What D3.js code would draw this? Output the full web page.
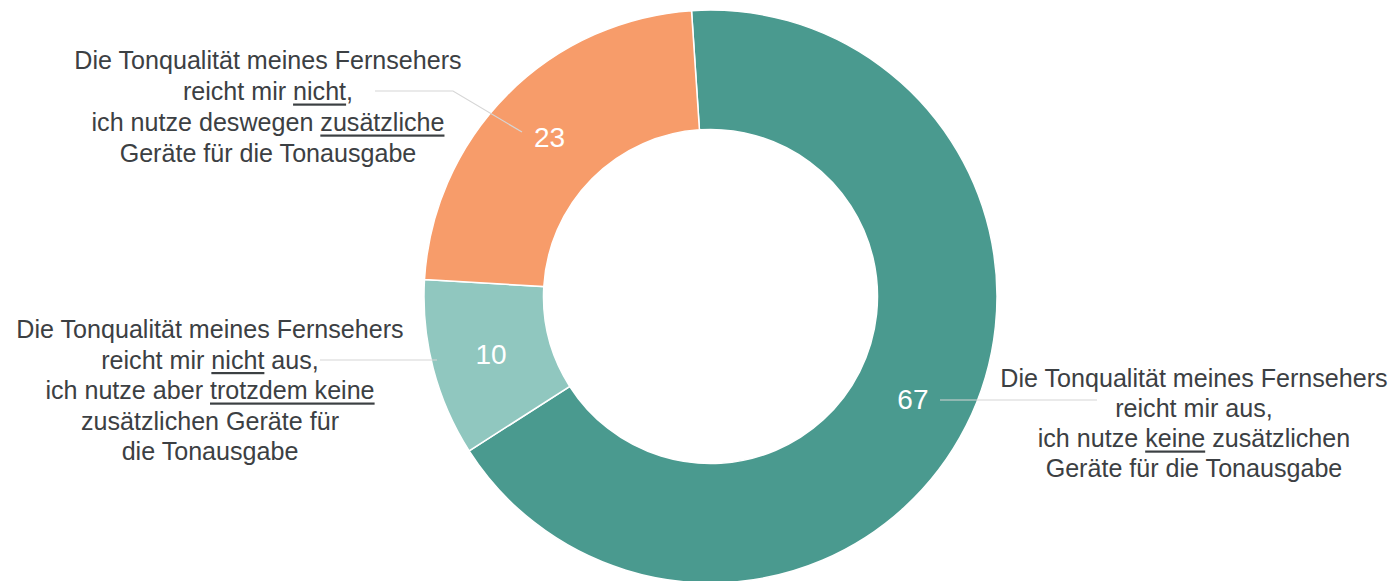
<!DOCTYPE html>
<html>
<head>
<meta charset="utf-8">
<script src="https://cdn.jsdelivr.net/npm/d3@7"></script>
<style>
  html, body { margin: 0; padding: 0; background: #fff; overflow: hidden; }
  svg { display: block; }
  svg text { font-family: Arial, "Liberation Sans", Helvetica, sans-serif; }
</style>
</head>
<body>
<svg id="chart"></svg>
<script>
// Daten
let kategorien = ["ausreichend", "nicht ausreichend, keine Geräte", "nicht ausreichend, zusätzliche Geräte"];
let werte = [67, 10, 23];
let farben = ["#4a9a8f", "#90c7bf", "#f79c6a"];
// _wort_ = unterstrichen
let beschriftungen = [
    ["Die Tonqualität meines Fernsehers", "reicht mir aus,", "ich nutze _keine_ zusätzlichen", "Geräte für die Tonausgabe"],
    ["Die Tonqualität meines Fernsehers", "reicht mir _nicht_ aus,", "ich nutze aber _trotzdem keine_", "zusätzlichen Geräte für", "die Tonausgabe"],
    ["Die Tonqualität meines Fernsehers", "reicht mir _nicht_,", "ich nutze deswegen _zusätzliche_", "Geräte für die Tonausgabe"]
];

let breite = 1393, hoehe = 581;
let cx = 710.5, cy = 296.5;
let rAussen = 286.5, rInnen = 167;
let startWinkel = -3.8 * Math.PI / 180;

// Position der Textblöcke und Führungslinien (Layout)
let layout = [
    { tx: 1194, ty: 387, lh: 30, linie: [[940, 400], [1097, 400]] },
    { tx: 210, ty: 338, lh: 30.5, linie: [[437, 360], [320, 360]] },
    { tx: 268, ty: 69, lh: 31, linie: [[522, 132], [453, 91], [375, 91]] }
];

let svg = d3.select("#chart").attr("width", breite).attr("height", hoehe);
let g = svg.append("g").attr("transform", `translate(${cx}, ${cy})`);

let pie = d3.pie().sort(null).value(d => d)
    .startAngle(startWinkel).endAngle(startWinkel + 2 * Math.PI);
let arc = d3.arc().innerRadius(rInnen).outerRadius(rAussen);
let bogen = pie(werte);

g.selectAll(".segment")
    .data(bogen)
    .enter()
    .append("path")
    .classed("segment", true)
    .attr("d", arc)
    .attr("fill", (d, i) => farben[i])
    .attr("stroke", "#fff")
    .attr("stroke-width", 1.5);

// Führungslinien
svg.selectAll(".linie")
    .data(layout)
    .enter()
    .append("polyline")
    .classed("linie", true)
    .attr("points", d => d.linie.map(p => p.join(",")).join(" "))
    .attr("fill", "none")
    .attr("stroke", "#d6d6d6")
    .attr("stroke-width", 1.2);

// Werte im Segment
g.selectAll(".wert")
    .data(bogen)
    .enter()
    .append("text")
    .classed("wert", true)
    .attr("x", d => arc.centroid(d)[0])
    .attr("y", d => arc.centroid(d)[1])
    .attr("dy", "0.36em")
    .attr("text-anchor", "middle")
    .attr("fill", "#fff")
    .style("font-size", "28px")
    .text(d => d.value);

// Beschriftungen
beschriftungen.forEach((zeilen, i) => {
    let l = layout[i];
    let text = svg.append("text")
        .attr("text-anchor", "middle")
        .attr("fill", "#3c4043")
        .style("font-size", "25.1px");
    let unterstrichen = [];
    zeilen.forEach((zeile, j) => {
        let zl = text.append("tspan")
            .attr("x", l.tx)
            .attr("y", l.ty + j * l.lh);
        zeile.split("_").forEach((teil, k) => {
            if (!teil) return;
            let t = zl.append("tspan").text(teil);
            if (k % 2 === 1) unterstrichen.push({ el: t.node(), y: l.ty + j * l.lh });
        });
    });
    unterstrichen.forEach(u => {
        let x0 = u.el.getStartPositionOfChar(0).x;
        let w = u.el.getComputedTextLength();
        svg.append("rect")
            .attr("x", x0)
            .attr("y", u.y + 3.5)
            .attr("width", w)
            .attr("height", 2.2)
            .attr("fill", "#3c4043");
    });
});
</script>
</body>
</html>
